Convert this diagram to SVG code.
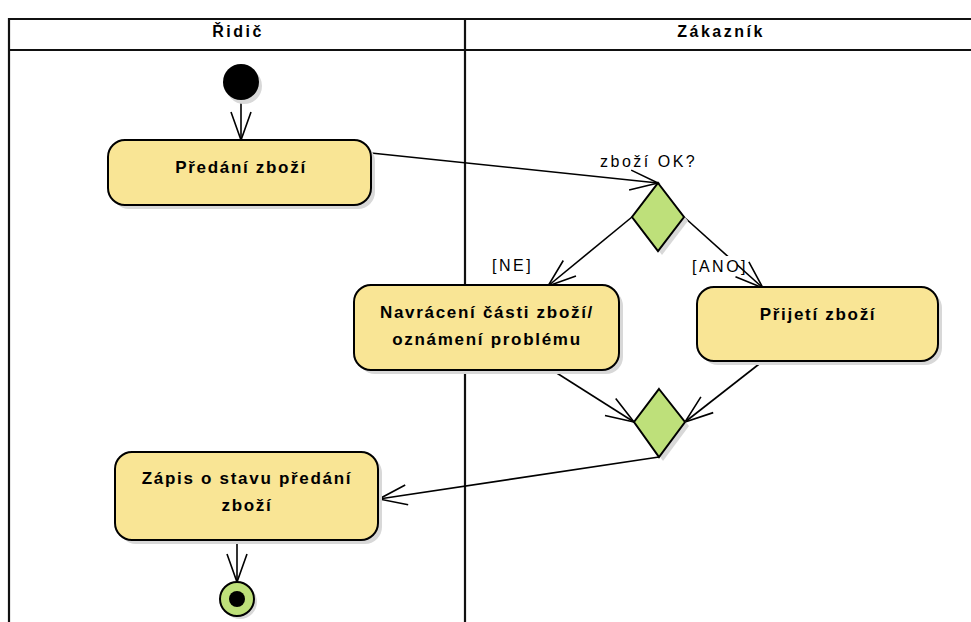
<svg xmlns="http://www.w3.org/2000/svg" width="971" height="622" viewBox="0 0 971 622">
<defs>
<marker id="arr" markerUnits="userSpaceOnUse" markerWidth="32" markerHeight="24" viewBox="0 0 32 24" refX="29" refY="11" orient="auto">
<path d="M1,1 L29,11 L1,21" fill="none" stroke="#000" stroke-width="1.6"/>
</marker>
</defs>
<style>
.lane{stroke:#111;stroke-width:2.2;fill:none}
.act{fill:#F9E595;stroke:#000;stroke-width:2}
.sh{fill:#d8d8d8}
.dec{fill:#BEE07A;stroke:#000;stroke-width:2}
.edge{stroke:#000;stroke-width:1.6;fill:none;marker-end:url(#arr)}
.t{font-family:"Liberation Sans",Arial,sans-serif;font-weight:bold;font-size:17px;letter-spacing:1.7px;text-anchor:middle;fill:#000}
.h{font-family:"Liberation Sans",Arial,sans-serif;font-weight:bold;font-size:16px;letter-spacing:2.5px;text-anchor:middle;fill:#000}
.l{font-family:"Liberation Sans",Arial,sans-serif;font-size:16px;letter-spacing:2.5px;fill:#000}
</style>
<rect width="971" height="622" fill="#fff"/>
<g id="lanes">
<path class="lane" d="M9,622 L9,19 L971,19 M9,50 L971,50 M465,19 L465,622"/>
<text class="h" x="238" y="37">Řidič</text>
<text class="h" x="721" y="37">Zákazník</text>
</g>
<g id="connectors">
<path class="edge" d="M241,100 L241,140"/>
<path class="edge" d="M371,153 L658,183"/>
<path class="edge" d="M632,217 L548,286"/>
<path class="edge" d="M684,217 L763,288"/>
<path class="edge" d="M552,370 L634,422"/>
<path class="edge" d="M763,361 L685,422"/>
<path class="edge" d="M659,457 L379,499"/>
<path class="edge" d="M237,540 L237,582"/>
<text class="l" x="600" y="167">zboží OK?</text>
<text class="l" x="492" y="271">[NE]</text>
<rect x="715" y="256" width="22" height="18" fill="#fff"/>
<text class="l" x="692" y="272">[ANO]</text>
</g>
<g id="start">
<circle class="sh" cx="244" cy="86" r="18"/>
<circle cx="241" cy="82" r="18" fill="#000"/>
</g>
<g id="predani">
<rect class="sh" x="112" y="144" width="263" height="65" rx="17"/>
<rect class="act" x="108" y="140" width="263" height="65" rx="17"/>
<text class="t" x="241" y="173">Předání zboží</text>
</g>
<g id="decision">
<polygon class="sh" points="662,187 688,221 662,255 636,221"/>
<polygon class="dec" points="658,183 684,217 658,251 632,217"/>
</g>
<g id="navraceni">
<rect class="sh" x="358" y="289" width="265" height="85" rx="17"/>
<rect class="act" x="354" y="285" width="265" height="85" rx="17"/>
<text class="t" x="487" y="318">Navrácení části zboží/</text>
<text class="t" x="487" y="345">oznámení problému</text>
</g>
<g id="prijeti">
<rect class="sh" x="701" y="291" width="241" height="74" rx="17"/>
<rect class="act" x="697" y="287" width="241" height="74" rx="17"/>
<text class="t" x="818" y="320">Přijetí zboží</text>
</g>
<g id="merge">
<polygon class="sh" points="663,393 689,426 663,461 638,426"/>
<polygon class="dec" points="659,389 685,422 659,457 634,422"/>
</g>
<g id="zapis">
<rect class="sh" x="119" y="456" width="263" height="88" rx="17"/>
<rect class="act" x="115" y="452" width="263" height="88" rx="17"/>
<text class="t" x="247" y="484">Zápis o stavu předání</text>
<text class="t" x="247" y="511">zboží</text>
</g>
<g id="end">
<circle class="sh" cx="240" cy="602" r="17"/>
<circle cx="237" cy="599" r="17" fill="#BEE07A" stroke="#000" stroke-width="2"/>
<circle cx="237" cy="599" r="8" fill="#000"/>
</g>
</svg>
